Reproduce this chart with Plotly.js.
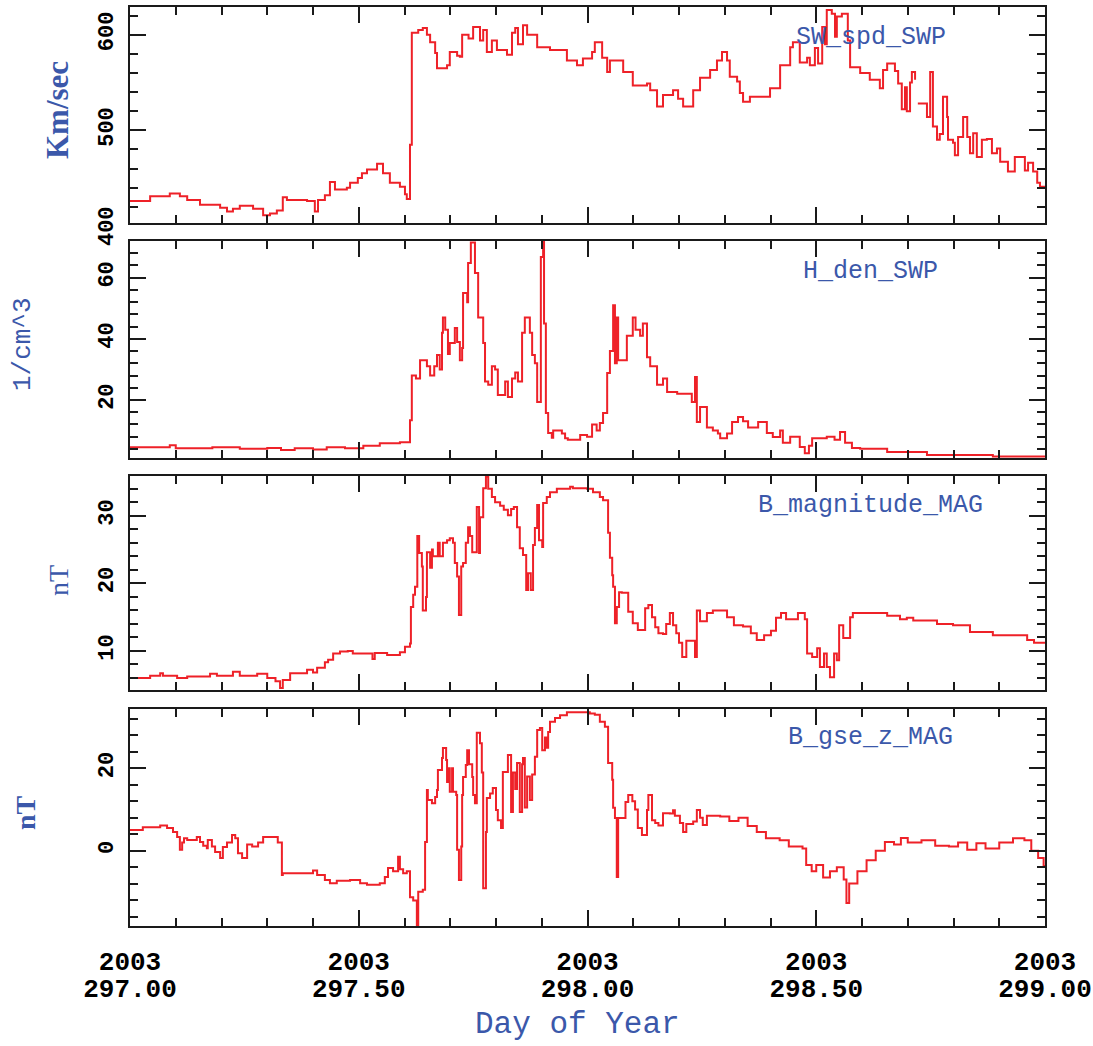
<!DOCTYPE html>
<html>
<head>
<meta charset="utf-8">
<script src="https://cdn.plot.ly/plotly-3.0.1.min.js"></script>
<style>html,body{margin:0;padding:0;background:#fff;}#chart{width:1093px;height:1046px;}</style>
</head>
<body>
<div id="chart"></div>
<script>
// ---------- data (Day of Year 2003) ----------
const speedDays = [297.000,297.044,297.087,297.109,297.125,297.153,297.197,297.212,297.225,297.240,297.269,297.291,297.306,297.321,297.334,297.343,297.387,297.404,297.411,297.426,297.437,297.448,297.474,297.481,297.498,297.507,297.518,297.540,297.553,297.568,297.590,297.601,297.605,297.612,297.616,297.630,297.640,297.649,297.656,297.667,297.671,297.693,297.699,297.715,297.721,297.726,297.740,297.750,297.765,297.772,297.780,297.791,297.802,297.824,297.835,297.842,297.848,297.859,297.868,297.890,297.918,297.955,297.977,297.990,298.010,298.016,298.032,298.043,298.049,298.078,298.099,298.130,298.137,298.152,298.165,298.187,298.198,298.209,298.231,298.246,298.268,298.283,298.294,298.305,298.311,298.327,298.333,298.340,298.355,298.399,298.421,298.443,298.449,298.464,298.480,298.486,298.497,298.504,298.513,298.519,298.523,298.534,298.541,298.545,298.556,298.569,298.574,298.596,298.617,298.639,298.646,298.655,298.672,298.679,298.687,298.694,298.698,298.705,298.709,298.716,298.720,298.722,298.742,298.749,298.755,298.764,298.770,298.777,298.786,298.788,298.799,298.803,298.810,298.821,298.830,298.836,298.843,298.851,298.862,298.873,298.884,298.895,298.902,298.919,298.934,298.956,298.963,298.974,298.983,298.989,299.000];
const swSpeed = [426,431,434,431,427,422,419,415,418,421,418,411,413,416,430,427,426,415,427,432,446,438,440,445,450,455,459,465,455,445,441,433,428,485,602,605,607,600,592,581,565,568,582,578,577,600,596,608,594,605,582,594,584,579,602,607,590,610,600,587,584,573,568,575,582,592,576,561,573,561,547,549,542,525,537,542,533,525,542,555,563,573,582,573,556,551,539,530,535,544,568,587,592,571,576,568,586,570,608,590,626,622,598,619,622,594,566,560,553,544,563,570,562,549,522,545,520,550,561,553,null,528,514,561,504,490,496,535,514,490,487,474,493,514,493,476,497,472,490,491,476,481,467,457,472,458,466,457,445,441,441];

const denDays = [297.000,297.087,297.100,297.180,297.240,297.300,297.330,297.360,297.400,297.430,297.470,297.510,297.546,297.590,297.612,297.616,297.625,297.634,297.649,297.656,297.665,297.671,297.677,297.682,297.684,297.689,297.695,297.699,297.710,297.715,297.721,297.726,297.728,297.737,297.739,297.745,297.754,297.761,297.772,297.776,297.783,297.791,297.798,297.804,297.820,297.826,297.835,297.842,297.848,297.857,297.863,297.874,297.879,297.885,297.890,297.898,297.903,297.905,297.909,297.914,297.922,297.925,297.944,297.951,297.957,297.984,297.999,298.010,298.020,298.027,298.034,298.043,298.049,298.056,298.060,298.064,298.067,298.078,298.086,298.099,298.105,298.115,298.121,298.130,298.137,298.152,298.165,298.174,298.196,298.228,298.235,298.239,298.246,298.261,298.274,298.285,298.290,298.305,298.316,298.329,298.340,298.351,298.373,298.392,298.405,298.421,298.427,298.443,298.464,298.475,298.484,298.491,298.523,298.540,298.552,298.563,298.578,298.596,298.655,298.742,298.886,299.000];
const hDen = [4.5,5.2,4.2,4.5,4.0,4.3,3.6,4.2,3.8,4.5,4.2,5.0,5.8,6.2,13.4,28,27,33,31,28,31,34.7,30,42,47,43,35,38.6,43.5,39,33,37,55,52,64.8,71.5,61.5,47,38.6,26,25,31,30,21.6,26,21,27,29,26,42,47,42,34.7,32,19.3,66.8,72,45,15.7,9.2,7.6,10,9,7.5,7,8.5,8,12,10,12.5,15.7,28.8,36,51,32,47,33,33,41,47,43,41,45,34,31,25,27,22.6,22,19.3,27.5,12.8,17.7,11,10,9,7.5,9,12.8,14.4,13,11,12.8,9.2,7.9,10,6,8,4.6,2.6,5,7.5,8,7,9.5,6,4.3,4,3,2,1.5,1.5];

const bmagDays = [297.000,297.044,297.066,297.072,297.103,297.125,297.175,297.190,297.225,297.240,297.278,297.300,297.318,297.328,297.334,297.350,297.387,297.400,297.409,297.426,297.433,297.444,297.459,297.476,297.487,297.530,297.535,297.562,297.590,297.601,297.612,297.614,297.619,297.623,297.628,297.632,297.638,297.640,297.647,297.649,297.656,297.660,297.662,297.673,297.677,297.684,297.693,297.699,297.706,297.710,297.715,297.719,297.724,297.728,297.734,297.739,297.743,297.748,297.758,297.763,297.765,297.772,297.778,297.783,297.791,297.798,297.809,297.817,297.826,297.833,297.839,297.846,297.852,297.859,297.866,297.870,297.876,297.881,297.885,297.890,297.894,297.901,297.903,297.911,297.918,297.933,297.962,297.968,297.999,298.012,298.027,298.034,298.045,298.049,298.054,298.056,298.060,298.064,298.069,298.075,298.089,298.099,298.110,298.126,298.133,298.141,298.148,298.155,298.165,298.172,298.180,298.187,298.194,298.200,298.207,298.216,298.235,298.239,298.246,298.261,298.274,298.305,298.320,298.340,298.357,298.370,298.386,298.401,298.412,298.423,298.434,298.460,298.475,298.480,298.491,298.502,298.508,298.517,298.523,298.530,298.539,298.545,298.550,298.559,298.574,298.580,298.655,298.683,298.698,298.712,298.764,298.799,298.836,298.886,298.961,298.976,299.000];
const bMag = [6.0,6.3,6.7,6.3,6.0,6.2,6.6,6.3,6.9,6.3,6.6,6.0,5.5,4.5,5.7,6.7,7.2,6.8,7.5,8.3,8.7,9.6,9.9,10.0,9.6,8.8,9.7,9.4,9.8,10.6,11.1,16.5,18.3,19.5,27,24.5,22.5,16,18,24.6,22.3,25,24,26,24,26,26.4,26.7,26,23,21,15.3,22.5,23,26,28.3,27,24.6,31.3,24.5,29.8,34.1,35.8,34,32.8,32,31.5,30.9,30.1,31,31.3,28.3,25.2,24.2,19,21.5,19,25.7,28.2,31.6,26.4,25.4,31.9,32.8,33.5,34,34.3,34.1,34.0,33.5,32.8,32.3,27.5,23.8,21.2,19.5,14.1,16.5,18.7,18.6,15.8,14.1,13.1,16.3,16.8,15,13.5,12.6,12.5,14,15.6,13.8,12.6,11.2,9.1,11.5,9.1,16,14.4,15.6,16.0,15.0,13.8,13.6,12.6,11.6,12.3,13,14.9,15.6,14.7,15.6,14.7,9.6,9.1,10.4,7.6,9.6,7.6,6.1,9.6,8.6,13.8,11.9,15.0,15.6,15.2,14.7,14.9,14.5,14.0,13.8,12.8,12.3,11.6,11.2,11.2];

const bzDays = [297.000,297.028,297.066,297.081,297.094,297.103,297.109,297.114,297.118,297.125,297.146,297.153,297.160,297.168,297.170,297.179,297.186,297.197,297.203,297.212,297.223,297.230,297.236,297.245,297.256,297.267,297.280,297.291,297.323,297.332,297.334,297.400,297.409,297.426,297.437,297.452,297.481,297.503,297.518,297.546,297.557,297.564,297.575,297.586,297.590,297.597,297.605,297.612,297.619,297.627,297.630,297.640,297.645,297.649,297.651,297.660,297.667,297.671,297.673,297.682,297.684,297.691,297.693,297.695,297.699,297.704,297.706,297.713,297.715,297.719,297.724,297.726,297.728,297.734,297.737,297.741,297.748,297.750,297.754,297.758,297.765,297.769,297.772,297.778,297.780,297.787,297.793,297.800,297.804,297.811,297.815,297.826,297.833,297.837,297.842,297.846,297.852,297.857,297.859,297.863,297.868,297.874,297.879,297.885,297.890,297.896,297.901,297.907,297.911,297.914,297.918,297.929,297.940,297.955,297.999,298.005,298.016,298.027,298.038,298.045,298.054,298.056,298.060,298.064,298.067,298.083,298.089,298.098,298.104,298.110,298.119,298.130,298.133,298.141,298.148,298.155,298.165,298.180,298.187,298.191,298.202,298.209,298.216,298.231,298.239,298.246,298.252,298.261,298.290,298.310,298.330,298.350,298.370,298.390,298.420,298.440,298.470,298.478,298.490,298.500,298.515,298.530,298.545,298.560,298.566,298.572,298.590,298.610,298.630,298.650,298.670,298.685,298.700,298.730,298.760,298.790,298.810,298.830,298.850,298.870,298.900,298.930,298.955,298.970,298.985,298.997,299.000];
const bzGse = [5.0,5.7,6.1,5.5,4.5,3.3,0.2,2.0,3.0,2.6,3.3,2.1,1.2,0.6,2.6,1.0,-0.3,-1.8,0.9,2.0,3.8,3.0,-0.6,-1.8,1.5,1.0,2.0,3.3,2.0,-5.9,-5.5,-4.8,-5.9,-7.1,-7.9,-7.3,-7.1,-7.9,-8.3,-7.9,-6.4,-4.2,-5,-1.5,-4.5,-5.5,-5.0,-11.3,-12.1,-18.1,-10.0,-9.5,2.1,14.7,12.3,11.5,13,14.7,19.6,22.5,24.9,22,16.7,20,14.3,20,14.3,13.5,0.2,-7.1,1,13.5,17.9,20.8,24.4,21,17.9,13.5,11.5,28.6,26.1,19,-9.1,4.5,12.8,13.9,15.2,9.9,7.4,5.5,19.1,23.2,9.4,19,15,21.3,9.4,21,22.5,10.5,18,12.3,18.5,22.8,29.3,29.8,24.4,27.5,25,28.8,31.3,32.2,32.9,33.6,33.6,33.3,33,31.3,30.1,21.3,17.2,10.4,7.9,-6.4,7.9,11.8,13.5,12,10,5.5,3.8,9.9,13.5,7.4,6.7,6.1,9.1,9.0,9.8,8.5,6.7,4.5,6.5,7.1,9.9,8.0,6.2,8.5,8.3,7.2,8.0,6.0,4.5,3.0,2.5,1.0,0.5,-3.5,-5,-3.5,-6.5,-5,-4,-7,-12.7,-8,-5,-2.3,0,2.1,1.5,3.1,2.0,2.5,1.2,1.0,2.0,0.2,1.8,0.5,2.0,3.0,2.5,0.0,-1.8,-3.7,-3.7];

const xTickVals = [297.0, 297.5, 298.0, 298.5, 299.0];
const xTickDay = ['297.00','297.50','298.00','298.50','299.00'];
const xTickYear = ['2003','2003','2003','2003','2003'];
const panelNames = ['SW_spd_SWP','H_den_SWP','B_magnitude_MAG','B_gse_z_MAG'];

// ---------- styling ----------
const RED = '#ee2128';
const BLUE = '#3b58aa';
const FRAME = '#1a1a1a';
const MONO = 'Liberation Mono, monospace';
const SERIF = 'Liberation Serif, serif';
const TICKFONT_X = {family: MONO, size: 26, color: '#000', weight: 'bold'};

function trace(x, y, n) {
  return {x: x, y: y, type: 'scatter', mode: 'lines', xaxis: 'x' + (n === 1 ? '' : n), yaxis: 'y' + (n === 1 ? '' : n),
    line: {color: RED, width: 2, shape: 'hv'}, connectgaps: false, hoverinfo: 'skip', showlegend: false};
}

function xAx(n, showLabels) {
  return {
    range: [297, 299], anchor: 'y' + (n === 1 ? '' : n), matches: n === 1 ? undefined : 'x',
    showgrid: false, zeroline: false, showline: true, linecolor: FRAME, linewidth: 2, mirror: 'ticks',
    ticks: 'inside', ticklen: 16, tickwidth: 2, tickcolor: FRAME,
    tickmode: 'array', tickvals: xTickVals, ticktext: xTickDay,
    showticklabels: showLabels, ticklabelstandoff: 38,
    tickfont: TICKFONT_X,
    minor: {dtick: 0.1, tick0: 297, ticks: 'inside', ticklen: 8, tickwidth: 2, tickcolor: FRAME, showgrid: false}
  };
}
function yAx(n, range, dtick, minorDtick, domain) {
  return {
    range: range, domain: domain, anchor: 'x' + (n === 1 ? '' : n),
    showgrid: false, zeroline: false, showline: true, linecolor: FRAME, linewidth: 2, mirror: 'ticks',
    ticks: 'inside', ticklen: 16, tickwidth: 2, tickcolor: FRAME,
    dtick: dtick, tick0: 0, tickangle: -90, ticklabelstandoff: 6,
    tickfont: {family: MONO, size: 22, color: '#000', weight: 'bold'},
    minor: {dtick: minorDtick, tick0: 0, ticks: 'inside', ticklen: 8, tickwidth: 2, tickcolor: FRAME, showgrid: false}
  };
}

const data = [
  trace(speedDays, swSpeed, 1),
  trace(denDays, hDen, 2),
  trace(bmagDays, bMag, 3),
  trace(bzDays, bzGse, 4),
  // carrier for the year row of the bottom tick labels
  {x: [], y: [], type: 'scatter', mode: 'lines', xaxis: 'x5', yaxis: 'y4', hoverinfo: 'skip', showlegend: false}
];

function panelLabel(txt, y) {
  return {text: txt, xref: 'paper', yref: 'paper', x: 0.8098, y: y, xanchor: 'center', yanchor: 'middle',
    showarrow: false, font: {family: MONO, size: 25, color: BLUE}};
}

const layout = {
  width: 1093, height: 1046,
  margin: {l: 130, r: 48, t: 0, b: 0},
  paper_bgcolor: '#fff', plot_bgcolor: '#fff',
  showlegend: false,
  xaxis: xAx(1, false),
  xaxis2: xAx(2, false),
  xaxis3: xAx(3, false),
  xaxis4: xAx(4, true),
  xaxis5: {
    overlaying: 'x4', anchor: 'y4', side: 'bottom', range: [297, 299],
    showgrid: false, zeroline: false, showline: false, ticks: '',
    tickmode: 'array', tickvals: xTickVals, ticktext: xTickYear,
    ticklabelstandoff: 17, tickfont: TICKFONT_X
  },
  yaxis: yAx(1, [403, 629], 100, 20, [0.7868, 0.9933]),
  yaxis2: yAx(2, [1, 72], 20, 4, [0.5621, 0.7696]),
  yaxis3: yAx(3, [4.2, 35.9], 10, 2, [0.3403, 0.5449]),
  yaxis4: yAx(4, [-18.3, 34.4], 20, 4, [0.1147, 0.3222]),
  annotations: [
    panelLabel(panelNames[0], 0.9646),
    panelLabel(panelNames[1], 0.7409),
    panelLabel(panelNames[2], 0.5172),
    panelLabel(panelNames[3], 0.2945),
    // tick label drawn just below the first panel's range (as in the original)
    {text: '400', xref: 'paper', yref: 'paper', x: -0.0251, y: 0.7839, xanchor: 'center', yanchor: 'middle',
      textangle: -90, showarrow: false, font: {family: MONO, size: 22, color: '#000', weight: 'bold'}},
    // y-axis titles
    {text: 'Km/sec', xref: 'paper', yref: 'paper', x: -0.0798, y: 0.8948, xanchor: 'center', yanchor: 'middle',
      textangle: -90, showarrow: false, font: {family: SERIF, size: 31, color: BLUE, weight: 'bold'}},
    {text: '1/cm^3', xref: 'paper', yref: 'paper', x: -0.1169, y: 0.6711, xanchor: 'center', yanchor: 'middle',
      textangle: -90, showarrow: false, font: {family: MONO, size: 26, color: BLUE}},
    {text: 'nT', xref: 'paper', yref: 'paper', x: -0.0787, y: 0.4455, xanchor: 'center', yanchor: 'middle',
      textangle: -90, showarrow: false, font: {family: SERIF, size: 28, color: BLUE}},
    {text: 'nT', xref: 'paper', yref: 'paper', x: -0.1148, y: 0.2237, xanchor: 'center', yanchor: 'middle',
      textangle: -90, showarrow: false, font: {family: SERIF, size: 28, color: BLUE, weight: 'bold'}},
    // x-axis title
    {text: 'Day of Year', xref: 'paper', yref: 'paper', x: 0.4896, y: 0.021, xanchor: 'center', yanchor: 'middle',
      showarrow: false, font: {family: MONO, size: 31, color: BLUE}}
  ]
};

Plotly.newPlot('chart', data, layout, {staticPlot: true, displayModeBar: false});
</script>
</body>
</html>
